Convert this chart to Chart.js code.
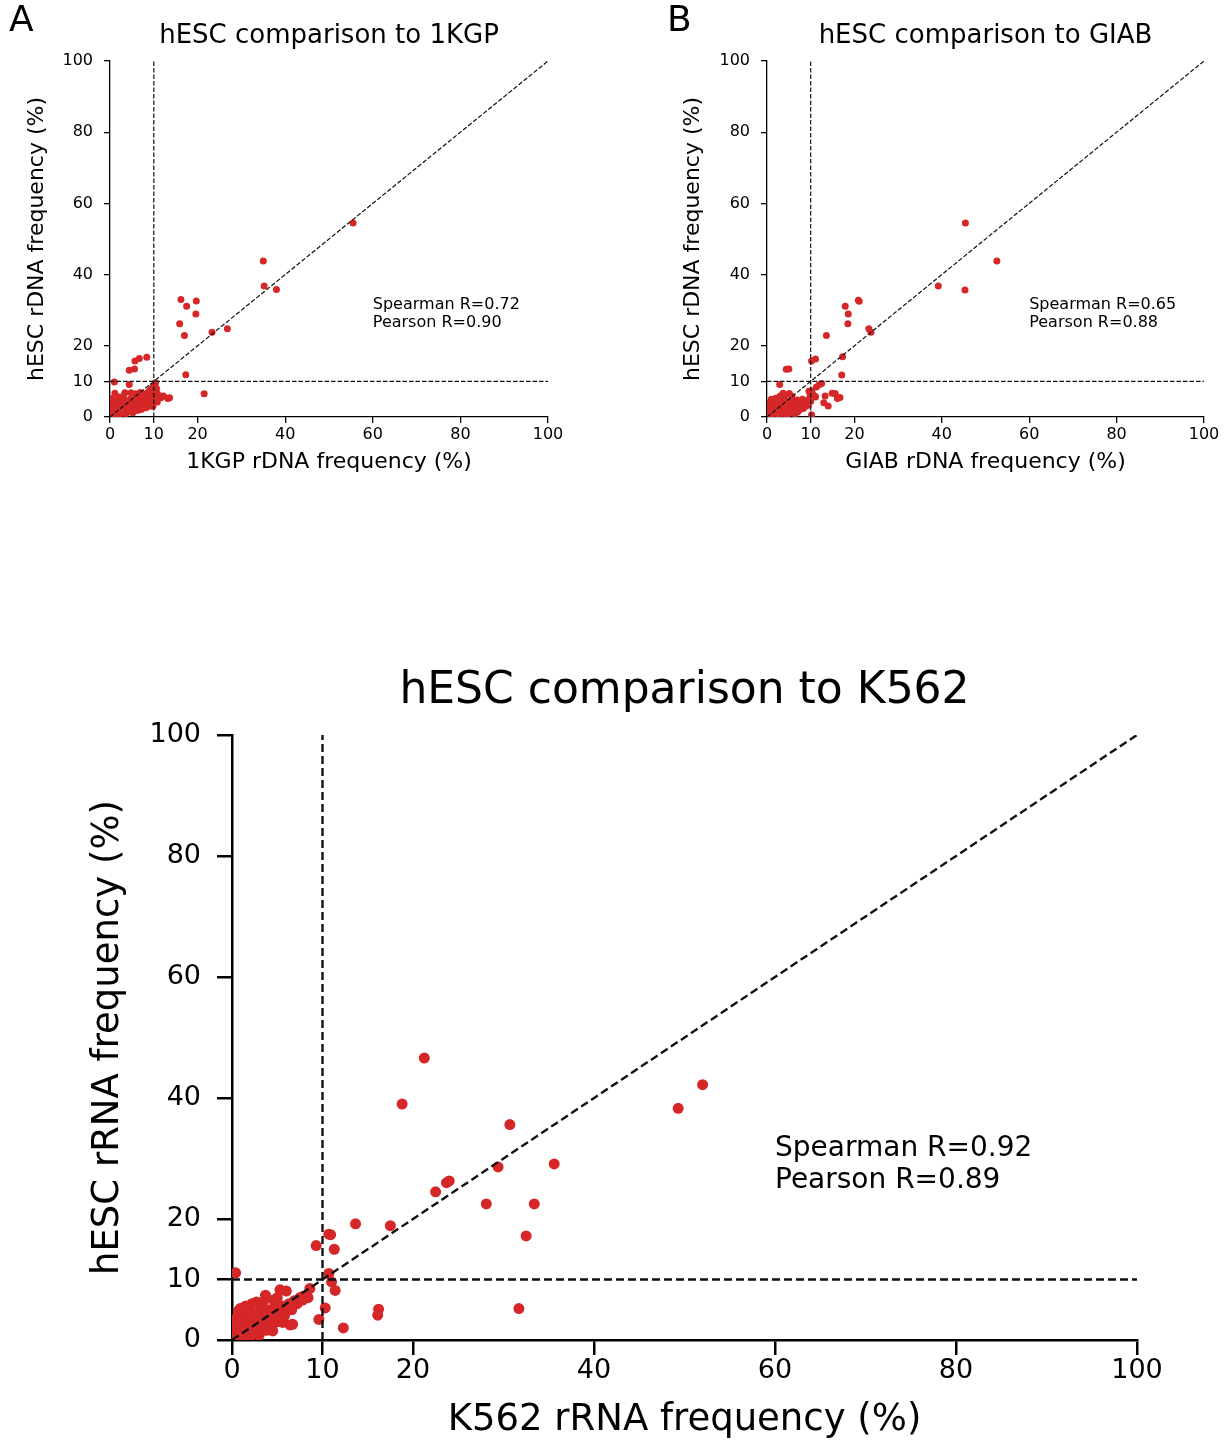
<!DOCTYPE html>
<html lang="en">
<head>
<meta charset="UTF-8">
<title>hESC rDNA comparison</title>
<script src="https://cdn.jsdelivr.net/npm/chart.js"></script>
<style>
    body { margin: 0; background: #fff; }
    .painel { position: absolute; }
</style>
</head>
<body>
<div class="painel" style="left:0;top:0"><canvas id="grafico_a" width="600" height="480"></canvas></div>
<div class="painel" style="left:660px;top:0"><canvas id="grafico_b" width="568" height="480"></canvas></div>
<div class="painel" style="left:0;top:640px"><canvas id="grafico_c" width="1228" height="800"></canvas></div>
<script>
// ticks used on both axes of every panel
const ticksEixo = [0, 10, 20, 40, 60, 80, 100];
const corte = 10;
const limite = 100;

// A - hESC vs 1KGP
const kgpX = [55.5, 35.0, 35.2, 38.0, 16.2, 19.7, 17.5, 19.6, 15.9, 17.0, 23.3, 26.8, 17.3, 21.5, 8.4, 6.7, 5.7, 5.6, 4.4, 1.0, 4.4, 1.1, 3.4, 4.8,
    10.4, 10.2, 9.8, 9.4, 9.0, 8.6, 10.6, 10.8, 11.2, 12.2, 13.2, 13.6, 10.8, 11.6, 10.4, 9.9,
    0.2, 0.5, 0.4, 0.8, 0.6, 1.0, 1.3, 1.5, 1.8, 2.0, 2.2, 2.4, 2.6, 2.8, 3.0, 3.2, 3.4, 3.6, 3.8, 4.0, 4.2, 4.4, 4.6, 4.8, 5.0, 5.2, 5.4, 5.6, 5.8, 6.0,
    6.2, 6.4, 6.6, 6.8, 7.0, 7.2, 7.4, 7.6, 7.8, 8.0, 8.2, 8.4, 8.6, 8.8, 9.0, 9.2, 9.4, 9.6, 9.8, 1.2, 2.0, 0.3, 3.1, 5.9, 6.9, 7.5, 4.5, 2.5, 1.7, 3.5, 6.5, 7.9, 8.3, 9.7];
const kgpY = [54.5, 43.8, 36.8, 35.8, 33.0, 32.6, 31.1, 28.9, 26.2, 22.9, 23.8, 24.8, 11.9, 6.5, 16.8, 16.4, 15.7, 13.5, 13.1, 9.8, 9.1, 6.7, 6.8, 6.8,
    9.6, 9.0, 8.6, 7.9, 7.3, 6.8, 8.0, 6.6, 6.0, 5.9, 5.2, 5.4, 4.2, 5.4, 5.0, 6.2,
    0.3, 1.0, 2.1, 3.0, 4.1, 1.5, 2.6, 0.8, 3.6, 1.9, 4.5, 0.9, 2.8, 3.9, 1.4, 4.6, 2.2, 1.0, 3.3, 1.3, 4.1, 2.6, 5.0, 1.7, 3.6, 1.2, 4.4, 2.4, 5.2, 1.8,
    3.1, 4.6, 2.0, 5.6, 3.4, 2.2, 4.2, 2.6, 5.9, 3.8, 2.6, 4.9, 3.0, 6.2, 4.4, 3.1, 5.5, 3.7, 3.0, 4.8, 5.6, 5.2, 5.9, 6.5, 6.9, 6.6, 3.0, 2.0, 1.2, 3.0, 3.8, 4.6, 6.0, 4.9];

// B - hESC vs GIAB
const giabX = [45.4, 52.6, 39.2, 45.3, 20.9, 21.1, 17.9, 18.6, 18.5, 13.6, 23.3, 23.8, 17.3, 17.1, 10.2, 11.1, 4.4, 5.0, 2.9, 12.0, 12.5, 11.3, 13.3, 14.9, 15.6,
    16.1, 16.7, 13.0, 14.0, 11.1, 10.2, 5.1, 3.7, 11.0,
    0.3, 0.5, 0.4, 0.7, 0.9, 1.2, 1.4, 1.6, 1.9, 2.1, 2.3, 2.5, 2.7, 3.0, 3.2, 3.4, 3.6, 3.8, 4.0, 4.2, 4.4, 4.6, 4.8, 5.0, 5.2, 5.4, 5.6, 5.8, 6.0, 6.2,
    6.4, 6.6, 6.8, 7.0, 7.2, 7.4, 7.6, 7.8, 8.0, 8.3, 8.6, 8.9, 9.2, 9.5, 9.8, 10.0, 9.9, 10.2, 10.4, 9.6, 1.0, 2.0, 5.7, 4.1, 8.1, 0.2, 3.0, 6.9];
const giabY = [54.5, 43.8, 36.8, 35.7, 32.8, 32.5, 31.1, 28.9, 26.2, 22.9, 24.8, 23.8, 16.9, 11.8, 15.7, 16.3, 13.4, 13.5, 9.1, 9.1, 9.4, 8.4, 5.9, 6.7, 6.6,
    5.2, 5.5, 4.0, 3.1, 5.6, 0.6, 6.6, 6.7, 5.8,
    0.5, 1.6, 2.8, 3.9, 4.6, 0.9, 2.2, 3.4, 4.4, 1.4, 2.9, 0.5, 3.8, 2.0, 4.7, 1.0, 3.2, 2.4, 4.0, 1.6, 3.0, 0.6, 2.2, 4.2, 1.2, 3.4, 2.6, 4.8, 1.8, 3.0,
    0.9, 2.4, 3.8, 1.4, 3.2, 2.0, 4.2, 2.8, 3.6, 2.4, 4.0, 3.0, 4.6, 3.4, 5.4, 4.4, 6.2, 7.4, 6.6, 7.2, 5.0, 5.3, 5.8, 5.6, 5.0, 3.4, 5.9, 4.8];

// C - hESC vs K562
const k562X = [21.25, 52.0, 49.3, 18.8, 30.7, 35.6, 29.4, 24.0, 23.7, 22.5, 28.1, 33.4, 32.5, 31.7, 13.65, 17.5, 10.7, 10.9, 9.3, 11.3, 10.7, 11.0, 11.4,
    8.6, 7.8, 10.3, 9.6, 12.3, 16.2, 16.1, 0.4, 5.3, 6.0, 3.7, 2.7, 0.9, 6.4, 6.7, 4.5,
    0.2, 0.3, 0.4, 0.5, 0.6, 0.8, 1.0, 1.1, 1.3, 1.5, 1.6, 1.8, 2.0, 2.1, 2.3, 2.5, 2.7, 2.9, 3.0, 3.2, 3.4, 3.6, 3.8, 4.0, 4.2, 4.4, 4.6, 4.8, 5.0, 5.3,
    5.5, 5.8, 6.0, 6.3, 6.6, 6.9, 7.2, 7.5, 7.8, 8.1, 8.4, 2.2, 1.5, 0.7, 3.5, 4.6, 5.0, 3.0, 2.4, 1.2, 4.2, 5.6, 0.9, 1.9, 2.6, 3.3, 4.0, 4.9];
const k562Y = [46.6, 42.2, 38.3, 39.0, 35.6, 29.1, 28.6, 26.3, 26.0, 24.5, 22.5, 22.5, 17.2, 5.2, 19.2, 18.9, 17.5, 17.4, 15.6, 15.0, 11.0, 9.6, 8.2,
    8.5, 7.2, 5.3, 3.4, 2.0, 5.1, 4.1, 11.1, 8.3, 8.1, 7.4, 6.3, 5.2, 2.5, 2.6, 1.5,
    0.4, 1.5, 2.6, 3.6, 0.8, 2.0, 3.2, 4.3, 1.0, 2.6, 3.8, 5.0, 0.5, 1.8, 3.0, 4.4, 2.2, 1.1, 3.6, 5.2, 2.6, 4.2, 1.6, 3.2, 5.0, 2.4, 3.8, 5.4, 3.0, 4.6,
    5.6, 4.0, 5.2, 6.0, 5.0, 6.5, 6.0, 7.0, 6.6, 7.3, 7.0, 6.0, 5.6, 4.8, 6.4, 6.6, 7.0, 0.8, 1.2, 0.3, 1.9, 2.9, 2.6, 3.4, 2.8, 4.0, 4.5, 4.1];

const vermelho = '#d62728';
const fonte = 'DejaVu Sans';

// letter, title and correlation text drawn on top of the chart
const textos = {
    id: 'textos',
    afterDraw(chart, args, op) {
        const ctx = chart.ctx;
        const area = chart.chartArea;
        ctx.save();
        ctx.fillStyle = '#000';
        ctx.textBaseline = 'middle';
        if (op.letra) {
            ctx.font = op.letraFonte + 'px "' + fonte + '"';
            ctx.textAlign = 'left';
            ctx.fillText(op.letra, op.letraX, op.letraY);
        }
        ctx.font = op.tituloFonte + 'px "' + fonte + '"';
        ctx.textAlign = 'center';
        ctx.fillText(op.titulo, (area.left + area.right) / 2, op.tituloY);

        ctx.font = op.statFonte + 'px "' + fonte + '"';
        ctx.textAlign = 'left';
        const px = chart.scales.x.getPixelForValue(op.statPos[0]);
        const py = chart.scales.y.getPixelForValue(op.statPos[1]);
        const h = op.statFonte * 1.16;
        ctx.fillText(op.stats[0], px, py - h / 2);
        ctx.fillText(op.stats[1], px, py + h / 2);
        ctx.restore();
    }
};

function desenharPainel(id, xs, ys, c) {
    let pontos = [];
    for (let i = 0; i < xs.length; i++) {
        pontos.push({ x: xs[i], y: ys[i] });
    }
    const linha = {
        type: 'line',
        borderColor: '#111',
        borderWidth: c.lw,
        borderDash: c.dash,
        pointRadius: 0,
        fill: false,
        order: 0
    };
    const eixo = function (tituloEixo, vertical) {
        return {
            type: 'linear',
            min: 0,
            max: limite,
            afterBuildTicks: function (s) { s.ticks = ticksEixo.map(v => ({ value: v })); },
            afterFit: function (s) {
                if (vertical) { s.width = c.yLargura; } else { s.height = c.xAltura; }
            },
            grid: {
                display: true,
                drawOnChartArea: false,
                drawTicks: true,
                tickLength: c.tick,
                tickWidth: c.eixoLw,
                lineWidth: c.eixoLw,
                tickColor: '#000',
                color: '#000'
            },
            border: { display: true, color: '#000', width: c.eixoLw },
            ticks: {
                color: '#000',
                font: { family: fonte, size: c.tickFonte },
                padding: vertical ? c.padY : c.padX,
                maxRotation: 0,
                autoSkip: false
            },
            title: {
                display: true,
                text: tituloEixo,
                color: '#000',
                font: { family: fonte, size: c.eixoFonte },
                padding: vertical ? { top: c.yTitPad, bottom: 0 } : { top: 0, bottom: c.xTitPad }
            }
        };
    };
    new Chart(document.getElementById(id), {
        type: 'scatter',
        data: {
            datasets: [
                Object.assign({ data: [{ x: 0, y: 0 }, { x: limite, y: limite }] }, linha),
                Object.assign({ data: [{ x: corte, y: 0 }, { x: corte, y: limite }] }, linha),
                Object.assign({ data: [{ x: 0, y: corte }, { x: limite, y: corte }] }, linha),
                {
                    data: pontos,
                    backgroundColor: vermelho,
                    borderWidth: 0,
                    pointRadius: c.raio,
                    order: 1
                }
            ]
        },
        options: {
            responsive: false,
            animation: false,
            layout: { padding: c.padding },
            plugins: {
                legend: { display: false },
                tooltip: { enabled: false },
                textos: c.textos
            },
            scales: {
                x: eixo(c.xTitulo, false),
                y: eixo(c.yTitulo, true)
            }
        },
        plugins: [textos]
    });
}

desenharPainel('grafico_a', kgpX, kgpY, {
    lw: 1.2, dash: [4.5, 2], eixoLw: 1.3, tick: 6, raio: 3.5,
    tickFonte: 16, eixoFonte: 22, padX: 2, padY: 11,
    yLargura: 110, xAltura: 63, yTitPad: 24, xTitPad: 5,
    padding: { top: 61, right: 52, bottom: 0, left: 0 },
    xTitulo: '1KGP rDNA frequency (%)', yTitulo: 'hESC rDNA frequency (%)',
    textos: {
        letra: 'A', letraFonte: 36, letraX: 9, letraY: 22,
        titulo: 'hESC comparison to 1KGP', tituloFonte: 26, tituloY: 36,
        stats: ['Spearman R=0.72', 'Pearson R=0.90'], statFonte: 16, statPos: [60, 29]
    }
});

desenharPainel('grafico_b', giabX, giabY, {
    lw: 1.2, dash: [4.5, 2], eixoLw: 1.3, tick: 6, raio: 3.5,
    tickFonte: 16, eixoFonte: 22, padX: 2, padY: 11,
    yLargura: 107, xAltura: 63, yTitPad: 20, xTitPad: 5,
    padding: { top: 61, right: 24, bottom: 0, left: 0 },
    xTitulo: 'GIAB rDNA frequency (%)', yTitulo: 'hESC rDNA frequency (%)',
    textos: {
        letra: 'B', letraFonte: 36, letraX: 7, letraY: 22,
        titulo: 'hESC comparison to GIAB', tituloFonte: 26, tituloY: 36,
        stats: ['Spearman R=0.65', 'Pearson R=0.88'], statFonte: 16, statPos: [60, 29]
    }
});

desenharPainel('grafico_c', k562X, k562Y, {
    lw: 2.4, dash: [8, 4], eixoLw: 2.5, tick: 15, raio: 5.5,
    tickFonte: 27, eixoFonte: 37, padX: 0, padY: 16,
    yLargura: 232, xAltura: 100, yTitPad: 86, xTitPad: -3,
    padding: { top: 95, right: 91, bottom: 0, left: 0 },
    xTitulo: 'K562 rRNA frequency (%)', yTitulo: 'hESC rRNA frequency (%)',
    textos: {
        letra: '', titulo: 'hESC comparison to K562', tituloFonte: 44, tituloY: 52,
        stats: ['Spearman R=0.92', 'Pearson R=0.89'], statFonte: 28, statPos: [60, 29]
    }
});
</script>
</body>
</html>
